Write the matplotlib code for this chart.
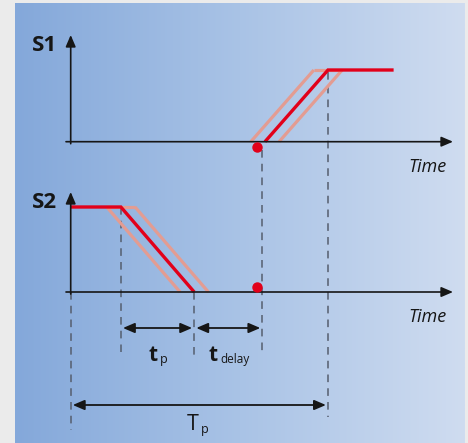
import numpy as np
import matplotlib.pyplot as plt
from matplotlib.colors import LinearSegmentedColormap

plt.rcParams['font.family'] = ['Open Sans', 'DejaVu Sans']

# signal data (time units, Tp = 10)
s1_time = [7.55, 10.0, 12.55]
s1_level = [0, 1, 1]
s2_time = [0.0, 1.95, 4.8]
s2_level = [1, 1, 0]
tolerance = [-0.55, 0.55]        # shift of the light (tolerance) ramps
dot_time = 7.25                  # red trigger points
t_delay_end = 7.45
spans = [("p", s2_time[1], s2_time[2]),
         ("delay", s2_time[2], t_delay_end)]
Tp = s1_time[1]

RED = '#e2001a'
LIGHT = '#e39c92'
DASH = '#555e6e'
INK = '#161616'

W, H = 468, 443
PX_T, X0 = 25.73, 70.7   # pixels per time unit, pixel of t = 0


def tx(px):
    return (px - X0) / PX_T


fig = plt.figure(figsize=(4.68, 4.43), dpi=100)
fig.patch.set_facecolor('#ebebeb')
ax = fig.add_axes([0, 0, 1, 1])
ax.set_axis_off()

# background gradient
cmap = LinearSegmentedColormap.from_list('bg', ['#84a8da', '#a9c3e6', '#cfdcf0'])
ax.imshow(np.linspace(0, 1, 256)[None, :], extent=[tx(15), tx(465), H, 3],
          aspect='auto', cmap=cmap, zorder=0)
ax.set_xlim(tx(0), tx(W))
ax.set_ylim(H, 0)


def sub_label(x, y, main, sub, weight, size=15, subsize=9):
    # main letter plus a small subscript placed right after it
    t = ax.text(x, y, main, ha='right', va='baseline', fontsize=size,
                fontweight=weight, color=INK)
    ax.annotate(sub, xy=(1, 0), xycoords=t, xytext=(1.5, 1.8),
                textcoords='offset points', ha='left', va='baseline',
                fontsize=subsize, color=INK)


# rows: (baseline y, level-1 y, axis tip y, label)
rows = [(141.7, 70.0, 35, 'S1', s1_time, s1_level),
        (292.0, 207.0, 192, 'S2', s2_time, s2_level)]

head = dict(arrowstyle='-|>,head_length=0.35,head_width=0.15', lw=1.2,
            color=INK, shrinkA=0, shrinkB=0, mutation_scale=20)

for base, top, tip, name, t, lev in rows:
    ly = lambda v: base - np.asarray(v, dtype=float) * (base - top)
    # axes
    ax.annotate('', xy=(0, tip), xytext=(0, base + 2), arrowprops=head, zorder=5)
    ax.annotate('', xy=(tx(453), base), xytext=(tx(66), base), arrowprops=head, zorder=5)
    ax.text(tx(57), tip + 10, name, ha='right', va='center', fontsize=16,
            fontweight='bold', color=INK)
    ax.text(tx(447), base + 25, 'Time', ha='right', va='center', fontsize=13,
            style='italic', color=INK)

    # find ramp segment
    i = [k for k in range(len(t) - 1) if lev[k] != lev[k + 1]][0]
    hi = i if lev[i] == 1 else i + 1
    for off in tolerance:
        rt = [t[i] + off, t[i + 1] + off]
        ax.plot(rt, ly(lev[i:i + 2]), color=LIGHT, lw=2.3, zorder=3,
                solid_capstyle='butt')
        ax.plot([t[hi] + off, t[hi]], ly([1, 1]), color=LIGHT, lw=2.3, zorder=3,
                solid_capstyle='butt')
    ax.plot(t, ly(lev), color=RED, lw=2.4, zorder=4, solid_capstyle='butt',
            solid_joinstyle='miter')

# trigger dots
ax.plot([dot_time, dot_time], [rows[0][0] + 5.5, rows[1][0] - 5], 'o',
        color=RED, ms=6.5, zorder=6)

# dashed guide lines
guides = [(0.0, 292, 430), (s2_time[1], 207, 352), (s2_time[2], 292, 358),
          (t_delay_end, 150, 352), (Tp, 72, 417)]
for gt, y0, y1 in guides:
    ax.plot([gt, gt], [y0, y1], color=DASH, lw=1.1, ls=(0, (5, 4)), zorder=2)

# dimension arrows
dim = dict(arrowstyle='<|-|>,head_length=0.35,head_width=0.15', lw=1.3,
           color=INK, shrinkA=1.5, shrinkB=1.5, mutation_scale=20)
for sub, a, b in spans:
    ax.annotate('', xy=(b, 328), xytext=(a, 328), arrowprops=dim, zorder=5)
sub_label(tx(158), 361, 't', 'p', 'bold')
sub_label(tx(218), 361, 't', 'delay', 'bold', subsize=8.5)
ax.annotate('', xy=(Tp, 405), xytext=(0, 405), arrowprops=dim, zorder=5)
sub_label(tx(199), 430, 'T', 'p', 'normal', size=15.5)

fig.savefig('out.png', dpi=100, facecolor=fig.get_facecolor())
